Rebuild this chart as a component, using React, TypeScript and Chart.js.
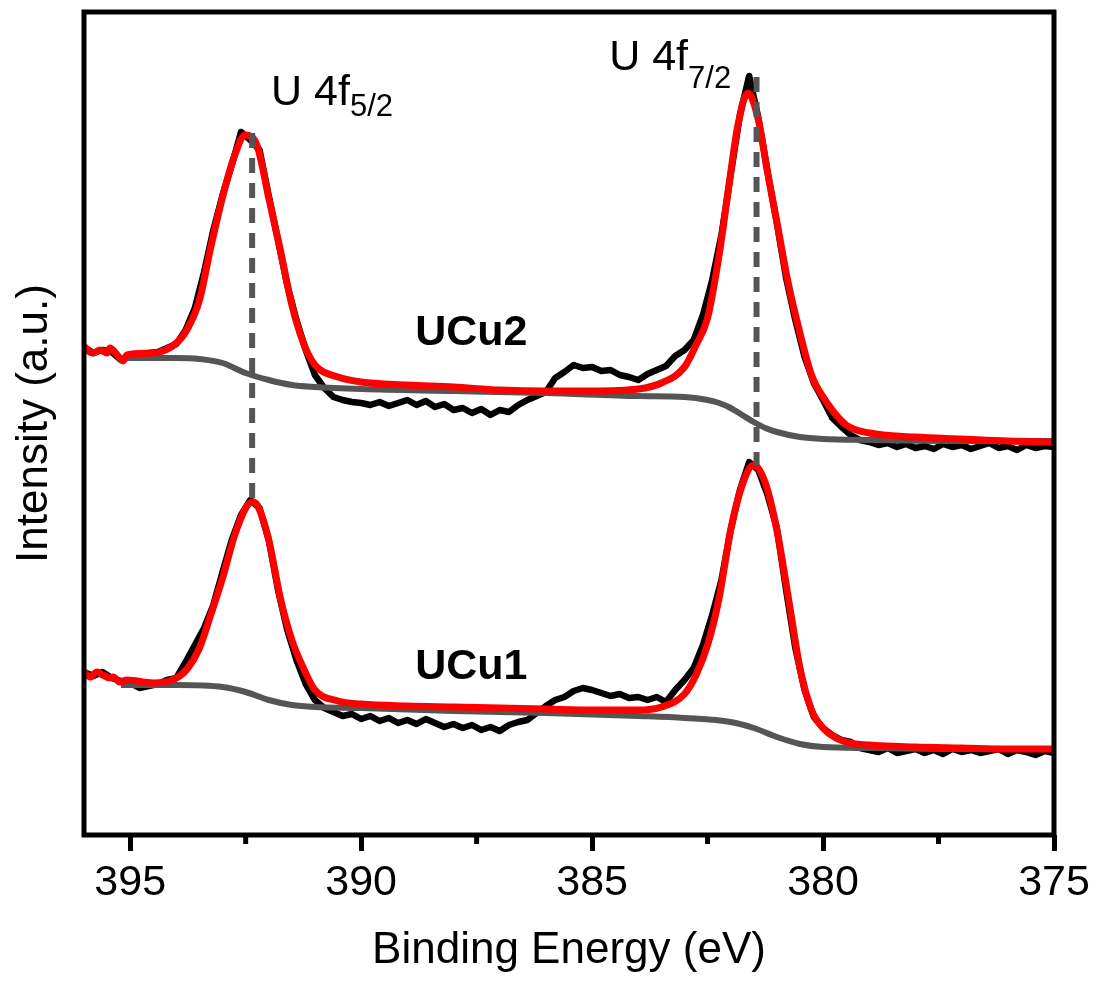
import React, { useEffect, useRef } from 'react';
import { Chart, registerables } from 'chart.js';

Chart.register(...registerables);

const FONT = '"Liberation Sans", Arial, Helvetica, sans-serif';

// ---- measured spectra (binding energy in eV, intensity in a.u.) ----
const dataEnergy = [
  396.0, 395.8, 395.6, 395.4, 395.2, 395.0, 394.8, 394.6, 394.4, 394.2,
  394.0, 393.8, 393.6, 393.4, 393.2, 393.0, 392.8, 392.6, 392.4, 392.2,
  392.0, 391.8, 391.6, 391.4, 391.2, 391.0, 390.8, 390.6, 390.4, 390.2,
  390.0, 389.8, 389.6, 389.4, 389.2, 389.0, 388.8, 388.6, 388.4, 388.2,
  388.0, 387.8, 387.6, 387.4, 387.2, 387.0, 386.8, 386.6, 386.4, 386.2,
  386.0, 385.8, 385.6, 385.4, 385.2, 385.0, 384.8, 384.6, 384.4, 384.2,
  384.0, 383.8, 383.6, 383.4, 383.2, 383.0, 382.8, 382.6, 382.4, 382.2,
  382.0, 381.8, 381.6, 381.4, 381.2, 381.0, 380.8, 380.6, 380.4, 380.2,
  380.0, 379.8, 379.6, 379.4, 379.2, 379.0, 378.8, 378.6, 378.4, 378.2,
  378.0, 377.8, 377.6, 377.4, 377.2, 377.0, 376.8, 376.6, 376.4, 376.2,
  376.0, 375.8, 375.6, 375.4, 375.2, 375.0,
];

const ucu2Raw = [
  488, 482, 485, 483, 475, 479, 480, 482, 483, 487,
  491, 505, 527, 563, 605, 640, 670, 703, 695, 685,
  639, 595, 550, 515, 485, 460, 447, 438, 435, 433,
  432, 430, 433, 429, 432, 435, 430, 434, 428, 431,
  425, 427, 422, 426, 420, 425, 423, 430, 435, 439,
  443, 457, 463, 470, 467, 468, 464, 465, 460, 458,
  455, 461, 465, 469, 479, 485, 495, 520, 555, 600,
  660, 720, 759, 717, 663, 612, 557, 515, 478, 452,
  435, 417, 408, 400, 395, 393, 390, 392, 388, 391,
  387, 389, 386, 391, 388, 390, 386, 389, 392, 387,
  389, 385, 390, 387, 389, 388,
];

const ucu1Raw = [
  163, 159, 163, 157, 154, 152, 147, 149, 151, 155,
  157, 173, 190, 207, 230, 263, 295, 320, 335, 327,
  295, 245, 205, 175, 151, 135, 127, 123, 119, 121,
  116, 119, 114, 117, 112, 115, 111, 116, 112, 108,
  111, 107, 110, 105, 108, 104, 110, 113, 115, 122,
  129, 135, 138, 144, 147, 145, 142, 139, 141, 137,
  138, 135, 138, 133, 145, 155, 167, 190, 220, 255,
  305, 345, 373, 365, 340, 307, 245, 187, 145, 118,
  107, 100, 95, 93, 87, 85, 83, 87, 82, 84,
  86, 82, 85, 81, 86, 83, 85, 82, 84, 86,
  81, 85, 83, 80, 84, 82,
];

// ---- fitted envelopes ----
const ucu2FitEnergy = [
  396, 395.93, 395.8, 395.65, 395.5, 395.44, 395.28, 395.15, 395.07, 394.5,
  394, 393.75, 393.5, 393.25, 393, 392.75, 392.51, 392.25, 392, 391.75,
  391.5, 391.25, 391, 390.5, 390, 389, 388, 387, 386, 385,
  384, 383.5, 383, 382.75, 382.5, 382.25, 382, 381.85, 381.63, 381.4,
  381.2, 381, 380.75, 380.5, 380.25, 380, 379.5, 379, 378, 377,
  376, 375,
];
const ucu2Fit = [
  489, 485, 482, 485, 482, 487, 480, 474, 480, 482,
  492, 507, 535, 589, 638, 678, 700, 689, 637, 585,
  530, 492, 470, 458, 453, 450, 448, 445, 444, 444,
  446, 452, 468, 490, 517, 580, 662, 708, 742, 715,
  662, 613, 551, 502, 460, 438, 410, 402, 398, 396,
  394, 393,
];

const ucu1FitEnergy = [
  396, 395.87, 395.72, 395.59, 395.44, 395.37, 395.22, 395.07, 394.5, 394,
  393.75, 393.5, 393.25, 393, 392.75, 392.5, 392.36, 392.25, 392, 391.75,
  391.5, 391.25, 391, 390.5, 390, 389, 388, 387, 386, 385,
  384, 383.5, 383, 382.75, 382.5, 382.25, 382, 381.75, 381.5, 381.25,
  381, 380.75, 380.5, 380.25, 380, 379.5, 379, 378, 377, 376,
  375,
];
const ucu1Fit = [
  163, 158, 163, 160, 157, 158, 153, 155, 152, 157,
  167, 187, 221, 257, 298, 327, 333, 330, 295, 237,
  195, 167, 145, 134, 131, 129, 128, 127, 126, 125,
  125, 128, 141, 160, 190, 237, 305, 350, 370, 352,
  305, 237, 167, 125, 107, 93, 90, 88, 87, 86,
  86,
];

// ---- Shirley backgrounds ----
const ucu2BgEnergy = [
  395.15, 394, 393.5, 393, 392.5, 392, 391.5, 391, 390, 388,
  386, 384, 383, 382.5, 382.25, 382, 381.75, 381.5, 381.25, 381,
  380.5, 380, 379, 377, 375,
];
const ucu2Bg = [
  477, 477, 476, 472, 462, 455, 450, 448, 446, 444,
  442, 439, 438, 435, 432, 427, 420, 413, 407, 403,
  398, 396, 395, 394, 394,
];

const ucu1BgEnergy = [
  395.2, 394, 393, 392.5, 392, 391.5, 391, 390, 388, 386,
  384, 383, 382, 381.5, 381, 380.5, 380, 379, 377, 375,
];
const ucu1Bg = [
  150, 150, 148, 143, 135, 130, 128, 127, 124, 122,
  119, 117, 113, 107, 98, 91, 88, 87, 86, 86,
];

// ---- peak guide lines (U 4f5/2, U 4f7/2) ----
const peakEnergies = [392.36, 381.44];
const peakGuideTop = [702, 758];
const peakGuideBottom = [335, 370];

// ---- axis ticks ----
const xMajorTicks = [395, 390, 385, 380, 375];
const xMinorTicks = [392.5, 387.5, 382.5, 377.5];

// ---- text annotations ----
const peakLabelMain = ['U 4f', 'U 4f'];
const peakLabelSub = ['5/2', '7/2'];
const peakLabelEnergy = [391.95, 384.63];
const peakLabelValue = [730, 765];
const peakLabelSubDrop = [11, 18];

const sampleNames = ['UCu2', 'UCu1'];
const sampleLabelEnergy = [388.83, 388.83];
const sampleLabelValue = [490, 156];

const toPoints = (xs: number[], ys: number[]) => xs.map((x, i) => ({ x, y: ys[i] }));

const decorPlugin = {
  id: 'decor',
  afterDatasetsDraw(chart: any) {
    const { ctx, chartArea, scales } = chart;
    const xs = scales.x;
    const ys = scales.y;
    ctx.save();
    // frame
    ctx.strokeStyle = '#000';
    ctx.lineWidth = 5;
    ctx.strokeRect(chartArea.left, chartArea.top, chartArea.right - chartArea.left, chartArea.bottom - chartArea.top);
    // minor ticks
    ctx.lineWidth = 5;
    ctx.lineCap = 'butt';
    xMinorTicks.forEach((v) => {
      const px = xs.getPixelForValue(v);
      ctx.beginPath();
      ctx.moveTo(px, chartArea.bottom);
      ctx.lineTo(px, chartArea.bottom + 9);
      ctx.stroke();
    });
    // peak labels
    ctx.fillStyle = '#000';
    ctx.textBaseline = 'alphabetic';
    ctx.textAlign = 'left';
    peakLabelMain.forEach((t, i) => {
      const px = xs.getPixelForValue(peakLabelEnergy[i]);
      const py = ys.getPixelForValue(peakLabelValue[i]);
      ctx.font = `43px ${FONT}`;
      ctx.fillText(t, px, py);
      const w = ctx.measureText(t).width;
      ctx.font = `31px ${FONT}`;
      ctx.fillText(peakLabelSub[i], px + w, py + peakLabelSubDrop[i]);
    });
    // sample labels
    ctx.font = `bold 43px ${FONT}`;
    sampleNames.forEach((t, i) => {
      const px = xs.getPixelForValue(sampleLabelEnergy[i]);
      const py = ys.getPixelForValue(sampleLabelValue[i]);
      ctx.fillText(t, px, py);
    });
    ctx.restore();
  },
};

export default function App() {
  const ref = useRef<HTMLCanvasElement | null>(null);

  useEffect(() => {
    if (!ref.current) return;
    Chart.defaults.font.family = FONT;

    const black = { borderColor: '#000000', borderWidth: 6.5, tension: 0, pointRadius: 0, borderJoinStyle: 'round', borderCapStyle: 'round', order: 3 };
    const grey = { borderColor: '#555555', borderWidth: 6, cubicInterpolationMode: 'monotone', pointRadius: 0, order: 2 };
    const red = { borderColor: '#ff0000', borderWidth: 7, cubicInterpolationMode: 'monotone', pointRadius: 0, borderJoinStyle: 'round', order: 1 };
    const dashed = { borderColor: '#555555', borderWidth: 6, borderDash: [15, 10], pointRadius: 0, order: 0 };

    const chart = new Chart(ref.current, {
      type: 'line',
      data: {
        datasets: [
          { label: 'UCu2 raw', data: toPoints(dataEnergy, ucu2Raw), ...black },
          { label: 'UCu1 raw', data: toPoints(dataEnergy, ucu1Raw), ...black },
          { label: 'UCu2 background', data: toPoints(ucu2BgEnergy, ucu2Bg), ...grey },
          { label: 'UCu1 background', data: toPoints(ucu1BgEnergy, ucu1Bg), ...grey },
          { label: 'UCu2 fit', data: toPoints(ucu2FitEnergy, ucu2Fit), ...red },
          { label: 'UCu1 fit', data: toPoints(ucu1FitEnergy, ucu1Fit), ...red },
          ...peakEnergies.map((e, i) => ({
            label: 'guide ' + i,
            data: [{ x: e, y: peakGuideTop[i] }, { x: e, y: peakGuideBottom[i] }],
            ...dashed,
          })),
        ] as any,
      },
      options: {
        animation: false,
        responsive: false,
        devicePixelRatio: 1,
        layout: { padding: { top: 12, right: 43, left: 0, bottom: 0 } },
        plugins: { legend: { display: false }, tooltip: { enabled: false } },
        elements: { point: { radius: 0 } },
        scales: {
          x: {
            type: 'linear',
            min: 375,
            max: 396,
            reverse: true,
            afterBuildTicks: (s: any) => {
              s.ticks = xMajorTicks.map((v) => ({ value: v }));
            },
            afterFit: (s: any) => {
              s.height = 146;
            },
            grid: { drawOnChartArea: false, drawTicks: true, tickLength: 16, tickWidth: 5, tickColor: '#000' },
            border: { display: false },
            ticks: { font: { family: FONT, size: 43 }, color: '#000', padding: 6, maxRotation: 0, autoSkip: false },
            title: {
              display: true,
              text: 'Binding Energy (eV)',
              font: { family: FONT, size: 44 },
              color: '#000',
              padding: { top: 0, bottom: 4 },
            },
          },
          y: {
            type: 'linear',
            min: 0,
            max: 823,
            afterFit: (s: any) => {
              s.width = 84;
            },
            ticks: { display: false },
            grid: { display: false },
            border: { display: false },
            title: {
              display: true,
              text: 'Intensity (a.u.)',
              font: { family: FONT, size: 44 },
              color: '#000',
              padding: { top: 8, bottom: 0 },
            },
          },
        },
      } as any,
      plugins: [decorPlugin],
    });
    return () => chart.destroy();
  }, []);

  return (
    <div style={{ position: 'absolute', left: 0, top: 0, width: 1097, height: 981, background: '#fff' }}>
      <canvas ref={ref} width={1097} height={981} style={{ display: 'block' }} />
    </div>
  );
}
